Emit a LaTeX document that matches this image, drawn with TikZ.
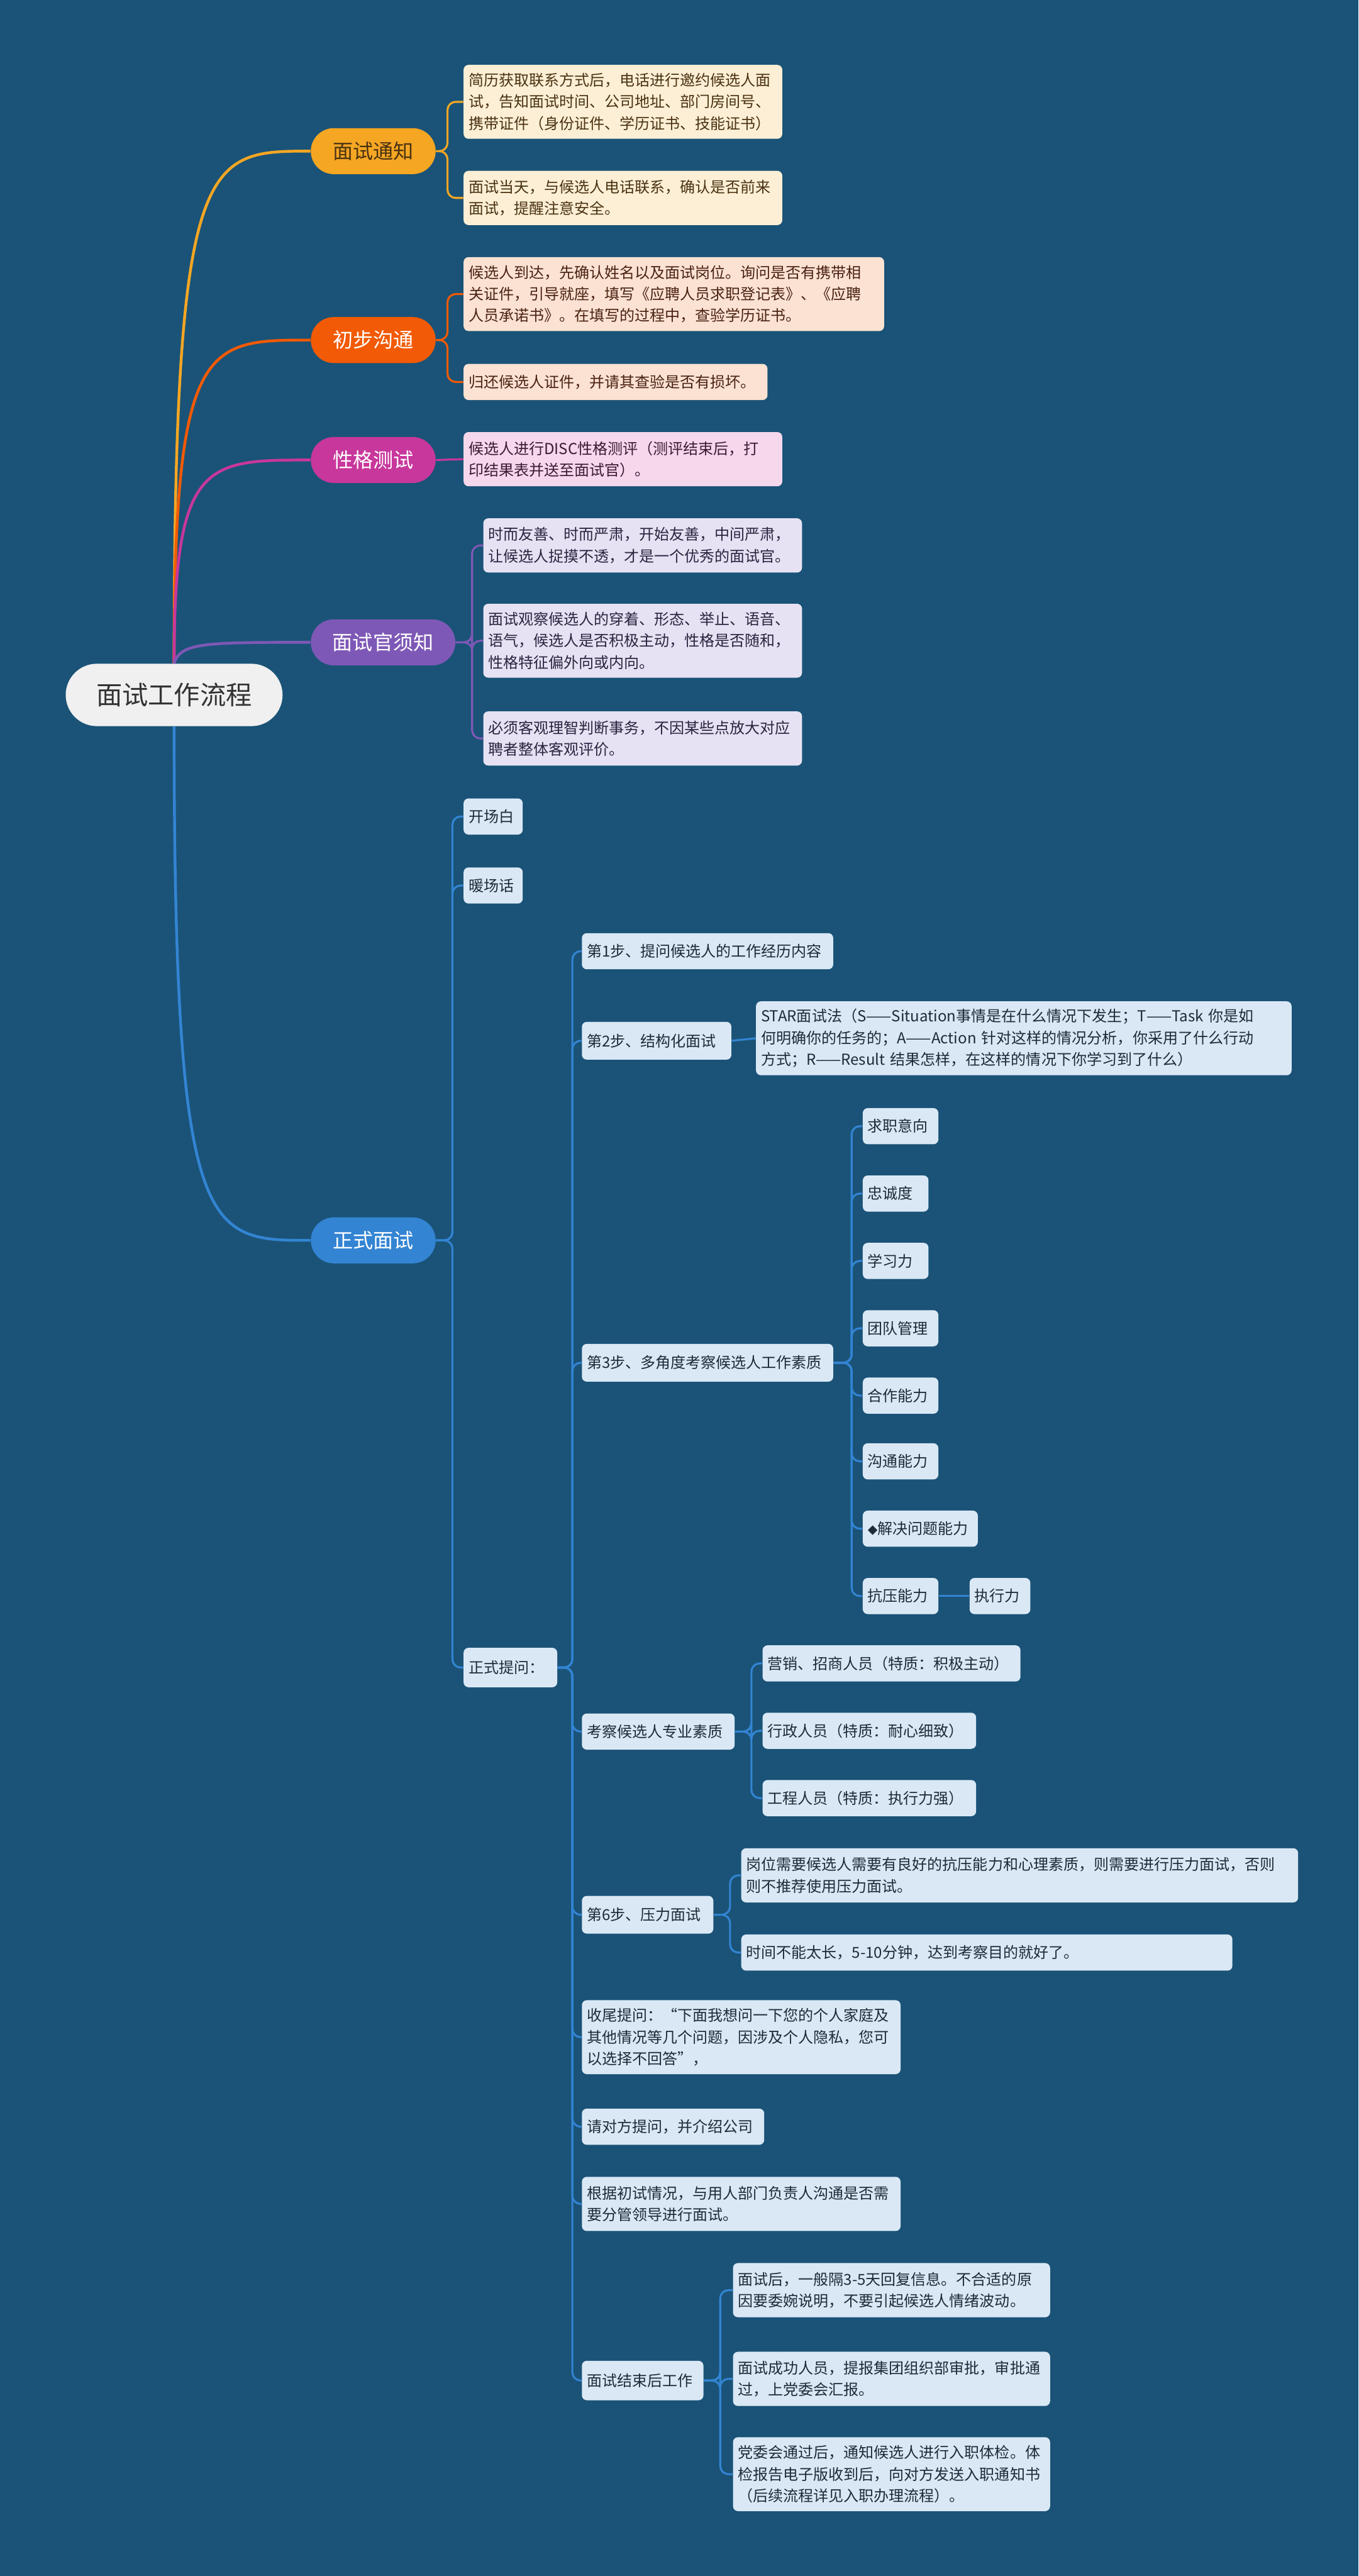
\documentclass[tikz,border=0pt]{standalone}
\usepackage{fontspec}
\setmainfont{Noto Sans CJK SC}
\usetikzlibrary{calc}
\definecolor{bgc}{HTML}{1A5377}
\definecolor{rootf}{HTML}{F0F0F0}
\definecolor{c1}{HTML}{F5A623}
\definecolor{c1l}{HTML}{FDEFD5}
\definecolor{c1t}{HTML}{4A3212}
\definecolor{c2}{HTML}{F25A06}
\definecolor{c2l}{HTML}{FCE2D2}
\definecolor{c2t}{HTML}{4A2212}
\definecolor{c3}{HTML}{C8379C}
\definecolor{c3l}{HTML}{F5D8EC}
\definecolor{c3t}{HTML}{3D1A35}
\definecolor{c4}{HTML}{7E58B6}
\definecolor{c4l}{HTML}{E7E2F3}
\definecolor{c4t}{HTML}{2A2540}
\definecolor{c5}{HTML}{3384D3}
\definecolor{c5l}{HTML}{DAE8F6}
\definecolor{c5t}{HTML}{1E2A38}
\newcommand\leaffont{\fontsize{9.2}{13.2}\selectfont}
\tikzset{
  leaf/.style={rounded corners=3pt, anchor=west, align=left, inner xsep=3pt, inner ysep=1pt, font=\leaffont},
  w/.style={text width=#1},
  l1/.style={leaf, minimum height=22},
  l2/.style={leaf, minimum height=33},
  l3/.style={leaf, minimum height=45},
  o1/.style={fill=c1l, text=c1t},
  o2/.style={fill=c2l, text=c2t},
  o3/.style={fill=c3l, text=c3t},
  o4/.style={fill=c4l, text=c4t},
  o5/.style={fill=c5l, text=c5t},
  mainnode/.style={rounded corners=14pt, anchor=west, minimum height=28, inner xsep=0pt, font=\fontsize{12.3}{14}\selectfont},
  maincon/.style={line width=1.7pt},
  con/.style={line width=1.2pt, rounded corners=5pt},
}
\begin{document}
\begin{tikzpicture}[x=1pt,y=-1pt]
\fill[bgc] (0,0) rectangle (827,1568);
\useasboundingbox (0,0) rectangle (827,1568);

% root
\node[fill=rootf, rounded corners=19pt, minimum width=132, minimum height=38, text=black!80, font=\fontsize{15.8}{18}\selectfont] (root) at (106,423) {面试工作流程};

% main nodes
\node[mainnode, fill=c1, text=c1t, minimum width=76] (m1) at (189,92) {面试通知};
\node[mainnode, fill=c2, text=white, minimum width=76] (m2) at (189,207) {初步沟通};
\node[mainnode, fill=c3, text=white, minimum width=76] (m3) at (189,280) {性格测试};
\node[mainnode, fill=c4, text=white, minimum width=88] (m4) at (189,391) {面试官须知};
\node[mainnode, fill=c5, text=white, minimum width=76] (m5) at (189,755) {正式面试};

% branch 1
\node[l3, o1, w=188] (a1) at (282,62) {简历获取联系方式后，电话进行邀约候选人面\\试，告知面试时间、公司地址、部门房间号、\\携带证件（身份证件、学历证书、技能证书）};
\node[l2, o1, w=188] (a2) at (282,120.5) {面试当天，与候选人电话联系，确认是否前来\\面试，提醒注意安全。};
% branch 2
\node[l3, o2, w=250] (b1) at (282,179) {候选人到达，先确认姓名以及面试岗位。询问是否有携带相\\关证件，引导就座，填写《应聘人员求职登记表》、《应聘\\人员承诺书》。在填写的过程中，查验学历证书。};
\node[l1, o2, w=179] (b2) at (282,232.5) {归还候选人证件，并请其查验是否有损坏。};
% branch 3
\node[l2, o3, w=188] (c1n) at (282,279.5) {候选人进行DISC性格测评（测评结束后，打\\印结果表并送至面试官）。};
% branch 4
\node[l2, o4, w=188] (d1) at (294,332) {时而友善、时而严肃，开始友善，中间严肃，\\让候选人捉摸不透，才是一个优秀的面试官。};
\node[l3, o4, w=188] (d2) at (294,390) {面试观察候选人的穿着、形态、举止、语音、\\语气，候选人是否积极主动，性格是否随和，\\性格特征偏外向或内向。};
\node[l2, o4, w=188] (d3) at (294,449.5) {必须客观理智判断事务，不因某些点放大对应\\聘者整体客观评价。};

% branch 5
\node[l1, o5, w=30] (e1) at (282,497) {开场白};
\node[l1, o5, w=30] (e2) at (282,539) {暖场话};
\node[l1, o5, w=51, minimum height=24] (e3) at (282,1015) {正式提问：};

\node[l1, o5, w=147] (f1) at (354,579) {第1步、提问候选人的工作经历内容};
\node[l1, o5, w=85, minimum height=23] (f2) at (354,633.5) {第2步、结构化面试};
\node[l3, o5, w=320] (g1) at (460,632) {STAR面试法（S——Situation事情是在什么情况下发生；T——Task 你是如\\何明确你的任务的；A——Action 针对这样的情况分析，你采用了什么行动\\方式；R——Result 结果怎样，在这样的情况下你学习到了什么）};
\node[l1, o5, w=147, minimum height=23] (f3) at (354,829.5) {第3步、多角度考察候选人工作素质};
\node[l1, o5, w=40] (h1) at (525,685.5) {求职意向};
\node[l1, o5, w=34] (h2) at (525,726.5) {忠诚度};
\node[l1, o5, w=34] (h3) at (525,767.5) {学习力};
\node[l1, o5, w=40] (h4) at (525,808.5) {团队管理};
\node[l1, o5, w=40] (h5) at (525,849.5) {合作能力};
\node[l1, o5, w=40] (h6) at (525,889.5) {沟通能力};
\node[l1, o5, w=64] (h7) at (525,930.5) {{\fontsize{6}{6}\selectfont ◆}解决问题能力};
\node[l1, o5, w=40] (h8) at (525,971.5) {抗压能力};
\node[l1, o5, w=31] (h9) at (590,971.5) {执行力};

\node[l1, o5, w=87] (f4) at (354,1054) {考察候选人专业素质};
\node[l1, o5, w=151] (i1) at (464,1012.5) {营销、招商人员（特质：积极主动）};
\node[l1, o5, w=124] (i2) at (464,1053.5) {行政人员（特质：耐心细致）};
\node[l1, o5, w=124] (i3) at (464,1094.5) {工程人员（特质：执行力强）};

\node[l1, o5, w=74, minimum height=23] (f5) at (354,1165.5) {第6步、压力面试};
\node[l2, o5, w=333] (j1) at (451,1141.5) {岗位需要候选人需要有良好的抗压能力和心理素质，则需要进行压力面试，否则\\则不推荐使用压力面试。};
\node[l1, o5, w=293] (j2) at (451,1188.5) {时间不能太长，5-10分钟，达到考察目的就好了。};

\node[l3, o5, w=188] (f6) at (354,1240) {收尾提问：“下面我想问一下您的个人家庭及\\其他情况等几个问题，因涉及个人隐私，您可\\以选择不回答”，};
\node[l1, o5, w=105] (f7) at (354,1294.5) {请对方提问，并介绍公司};
\node[l2, o5, w=188] (f8) at (354,1341.5) {根据初试情况，与用人部门负责人沟通是否需\\要分管领导进行面试。};
\node[l1, o5, w=68, minimum height=24] (f9) at (354,1449) {面试结束后工作};
\node[l2, o5, w=187] (k1) at (446,1394) {面试后，一般隔3-5天回复信息。不合适的原\\因要委婉说明，不要引起候选人情绪波动。};
\node[l2, o5, w=187] (k2) at (446,1448) {面试成功人员，提报集团组织部审批，审批通\\过，上党委会汇报。};
\node[l3, o5, w=187] (k3) at (446,1506) {党委会通过后，通知候选人进行入职体检。体\\检报告电子版收到后，向对方发送入职通知书\\（后续流程详见入职办理流程）。};

% root connectors
\draw[maincon, c1] (root.north) .. controls (106,92) and (125,92) .. (m1.west);
\draw[maincon, c2] (root.north) .. controls (106,207) and (125,207) .. (m2.west);
\draw[maincon, c3] (root.north) .. controls (106,280) and (125,280) .. (m3.west);
\draw[maincon, c4] (root.north) .. controls (110,391) and (125,391) .. (m4.west);
\draw[maincon, c5] (root.south) .. controls (106,755) and (125,755) .. (m5.west);

% branch connectors
\foreach \c in {a1,a2} \draw[con, c1] (m1.east) -- ++(7,0) |- (\c.west);
\foreach \c in {b1,b2} \draw[con, c2] (m2.east) -- ++(7,0) |- (\c.west);
\draw[con, c3] (m3.east) -- (c1n.west);
\foreach \c in {d1,d2,d3} \draw[con, c4] (m4.east) -- ++(10,0) |- (\c.west);
\foreach \c in {e1,e2,e3} \draw[con, c5] (m5.east) -- ++(10,0) |- (\c.west);
\foreach \c in {f1,f2,f3,f4,f5,f6,f7,f8,f9} \draw[con, c5] (e3.east) -- ++(9,0) |- (\c.west);
\draw[con, c5] (f2.east) -- (g1.west);
\foreach \c in {h1,h2,h3,h4,h5,h6,h7,h8} \draw[con, c5] (f3.east) -- ++(11,0) |- (\c.west);
\draw[con, c5] (h8.east) -- (h9.west);
\foreach \c in {i1,i2,i3} \draw[con, c5] (f4.east) -- ++(10,0) |- (\c.west);
\foreach \c in {j1,j2} \draw[con, c5] (f5.east) -- ++(10,0) |- (\c.west);
\foreach \c in {k1,k2,k3} \draw[con, c5] (f9.east) -- ++(10,0) |- (\c.west);
\end{tikzpicture}
\end{document}
